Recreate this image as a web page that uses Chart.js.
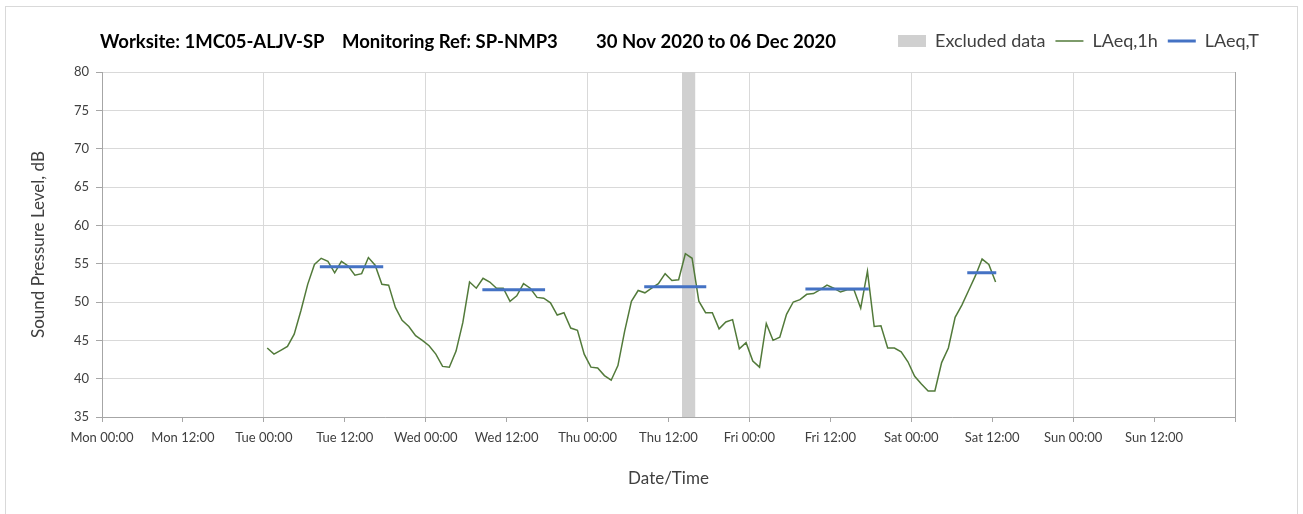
<!DOCTYPE html>
<html>
<head>
<meta charset="utf-8">
<script src="https://cdn.jsdelivr.net/npm/chart.js@4.4.1/dist/chart.umd.min.js"></script>
<style>
  html, body { margin: 0; padding: 0; background: #fff; }
  #wrap { position: relative; width: 1303px; height: 514px; }
  #frame { position: absolute; left: 5px; top: 6px; width: 1293px; height: 530px; border: 1px solid #d9d9d9; box-sizing: border-box; pointer-events: none; }
</style>
</head>
<body>
<div id="wrap">
  <canvas id="noiseChart"></canvas>
  <div id="frame"></div>
</div>
<script>
// x axis runs in hours from Mon 00:00 (0) to the following Mon 00:00 (168)
const tickLabels = ['Mon 00:00', 'Mon 12:00', 'Tue 00:00', 'Tue 12:00', 'Wed 00:00', 'Wed 12:00',
  'Thu 00:00', 'Thu 12:00', 'Fri 00:00', 'Fri 12:00', 'Sat 00:00', 'Sat 12:00', 'Sun 00:00', 'Sun 12:00'];

// LAeq,1h - hourly values, first one plotted at Tue 00:30
const firstHour = 24.5;
const laeq1h = [
  // Tue
  44.0, 43.2, 43.7, 44.2, 45.8, 48.9, 52.3, 54.9, 55.7, 55.3, 53.8, 55.3,
  54.7, 53.5, 53.7, 55.8, 54.8, 52.3, 52.2, 49.3, 47.6, 46.8, 45.6, 45.0,
  // Wed
  44.3, 43.2, 41.6, 41.5, 43.6, 47.3, 52.6, 51.8, 53.1, 52.6, 51.8, 51.8,
  50.1, 50.8, 52.4, 51.8, 50.6, 50.5, 49.9, 48.3, 48.6, 46.6, 46.3, 43.2,
  // Thu
  41.5, 41.4, 40.4, 39.8, 41.7, 46.2, 50.1, 51.5, 51.2, 51.8, 52.4, 53.7,
  52.8, 52.9, 56.3, 55.7, 50.1, 48.6, 48.6, 46.5, 47.4, 47.7, 43.9, 44.7,
  // Fri
  42.3, 41.5, 47.2, 45.0, 45.4, 48.4, 50.0, 50.3, 51.0, 51.1, 51.6, 52.2,
  51.8, 51.3, 51.6, 51.6, 49.2, 54.0, 46.8, 46.9, 44.0, 44.0, 43.5, 42.2,
  // Sat
  40.3, 39.3, 38.4, 38.4, 42.1, 44.0, 48.0, 49.6, 51.5, 53.4, 55.6, 54.9, 52.6
];

// LAeq,T - daytime period levels
const periodStart = [32.3, 56.4, 80.4, 104.3, 128.3];
const periodEnd   = [41.7, 65.7, 89.6, 113.7, 132.6];
const periodLevel = [54.6, 51.6, 52.0, 51.7, 53.8];

// Excluded data window (Thu 14:00 - 16:00)
const excludedStart = 86;
const excludedEnd = 88;

const hourlyPoints = laeq1h.map((v, i) => ({ x: firstHour + i, y: v }));
const periodPoints = [];
periodLevel.forEach((lv, i) => {
  periodPoints.push({ x: periodStart[i], y: lv }, { x: periodEnd[i], y: lv }, { x: periodEnd[i], y: null });
});

Chart.defaults.font.family = 'Lato, "Open Sans", sans-serif';
Chart.defaults.color = '#404040';

// bold header drawn in the legend row
const headerText = {
  id: 'headerText',
  afterDraw(chart) {
    const c = chart.ctx;
    c.save();
    c.font = 'bold 18.5px Lato, sans-serif';
    c.fillStyle = '#000';
    c.textBaseline = 'middle';
    c.fillText('Worksite: 1MC05-ALJV-SP', 100, 42);
    c.fillText('Monitoring Ref: SP-NMP3', 342, 42);
    c.fillText('30 Nov 2020 to 06 Dec 2020', 596, 42);
    c.restore();
  }
};

new Chart(document.getElementById('noiseChart'), {
  type: 'line',
  data: {
    datasets: [{
      label: 'Excluded data',
      data: [{ x: excludedStart, y: 80 }, { x: excludedEnd, y: 80 }],
      backgroundColor: '#d0d0d0',
      borderColor: '#d0d0d0',
      borderWidth: 0,
      pointRadius: 0,
      pointStyle: 'rect',
      fill: 'start',
      order: 2
    }, {
      label: 'LAeq,1h',
      data: hourlyPoints,
      borderColor: '#527a3a',
      backgroundColor: '#527a3a',
      borderWidth: 1.5,
      pointRadius: 0,
      pointStyle: 'line',
      tension: 0,
      order: 1
    }, {
      label: 'LAeq,T',
      data: periodPoints,
      borderColor: '#4472c4',
      backgroundColor: '#4472c4',
      borderWidth: 3,
      pointRadius: 0,
      pointStyle: 'line',
      spanGaps: false,
      order: 0
    }]
  },
  options: {
    responsive: true,
    maintainAspectRatio: false,
    animation: false,
    layout: { padding: { top: 22, right: 34, left: 0, bottom: 0 } },
    plugins: {
      tooltip: { enabled: false },
      legend: {
        position: 'top',
        align: 'end',
        labels: {
          usePointStyle: true,
          pointStyleWidth: 28,
          boxHeight: 12,
          padding: 10,
          color: '#404040',
          font: { size: 18 },
          sort: (a, b) => a.datasetIndex - b.datasetIndex
        }
      }
    },
    scales: {
      x: {
        type: 'linear',
        min: 0,
        max: 168,
        ticks: {
          stepSize: 12,
          autoSkip: false,
          maxRotation: 0,
          padding: 8,
          color: '#404040',
          font: { size: 13 },
          callback: (v) => tickLabels[v / 12] ?? ''
        },
        grid: {
          color: (c) => c.tick && c.tick.value % 24 === 0 ? (c.tick.value === 168 ? '#a6a6a6' : '#d9d9d9') : 'rgba(0,0,0,0)',
          tickColor: '#a6a6a6',
          tickLength: 5
        },
        border: { color: '#a6a6a6' },
        title: {
          display: true,
          text: 'Date/Time',
          color: '#404040',
          font: { size: 17 },
          padding: { top: 0, bottom: 25 }
        },
        afterFit: (s) => { s.height = 97; }
      },
      // spacer between legend row and plot area
      xTop: {
        type: 'linear',
        position: 'top',
        display: true,
        ticks: { display: false },
        grid: { display: false },
        border: { display: false },
        afterFit: (s) => { s.height = 12; }
      },
      y: {
        min: 35,
        max: 80,
        ticks: { stepSize: 5, padding: 7, color: '#404040', font: { size: 13 } },
        grid: { color: '#d9d9d9', tickColor: '#a6a6a6', tickLength: 6 },
        border: { color: '#a6a6a6' },
        title: {
          display: true,
          text: 'Sound Pressure Level, dB',
          color: '#404040',
          font: { size: 17 },
          padding: { top: 28, bottom: 0 }
        },
        afterFit: (s) => { s.width = 102; }
      },
      yRight: {
        position: 'right',
        display: true,
        ticks: { display: false },
        grid: { display: false },
        border: { display: false },
        afterFit: (s) => { s.width = 34; }
      }
    }
  },
  plugins: [headerText]
});
</script>
</body>
</html>
